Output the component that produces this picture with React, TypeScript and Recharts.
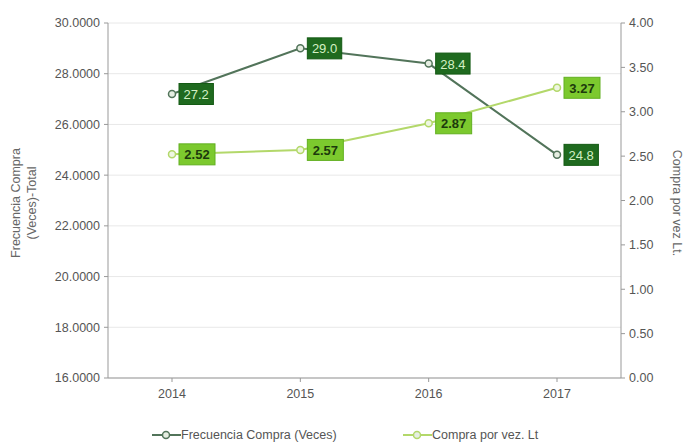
import { ComposedChart, Line, XAxis, YAxis, CartesianGrid, Legend, LabelList } from "recharts";

const years = ["2014", "2015", "2016", "2017"];
const frecuencia = [27.2, 29.0, 28.4, 24.8];
const compraPorVez = [2.52, 2.57, 2.87, 3.27];
const leftTicks = [16, 18, 20, 22, 24, 26, 28, 30];
const rightTicks = [0, 0.5, 1, 1.5, 2, 2.5, 3, 3.5, 4];
const seriesNames = ["Frecuencia Compra (Veces)", "Compra por vez. Lt"];

const FONT = '"Liberation Sans", Arial, sans-serif';
const DARK_LINE = "#52745a";
const LIGHT_LINE = "#b3d86a";

const data = years.map((year, i) => ({
  year,
  frecuencia: frecuencia[i],
  compra: compraPorVez[i],
}));

const makeLabel = (fill: string, color: string, digits: number, bold: boolean) =>
  function BoxLabel(props: any) {
    const { x, y, value } = props;
    const text = Number(value).toFixed(digits);
    const w = text.length * (bold ? 7 : 6.6) + 8;
    return (
      <g>
        <rect x={x + 7} y={y - 10.5} width={w} height={21} fill={fill} stroke={bold ? "#62b020" : "#145a14"} strokeWidth={1} />
        <text
          x={x + 7 + w / 2}
          y={y + 5}
          textAnchor="middle"
          fontSize={13}
          fontFamily={FONT}
          fontWeight={bold ? 700 : 400}
          fill={color}
        >
          {text}
        </text>
      </g>
    );
  };

const DarkLabel = makeLabel("#1f6a1f", "#d4f0c4", 1, false);
const LightLabel = makeLabel("#7cc92e", "#1c3a0c", 2, true);

function LegendContent(props: any) {
  const { payload } = props;
  const lefts = [152, 403];
  const items = seriesNames
    .map((name) => (payload || []).find((p: any) => p.value === name))
    .filter(Boolean);
  return (
    <div style={{ position: "relative", width: 683, height: 32 }}>
      {items.map((entry: any, i: number) => (
        <div
          key={entry.value}
          style={{
            position: "absolute",
            left: lefts[i],
            top: 14,
            display: "flex",
            alignItems: "center",
            fontFamily: FONT,
            fontSize: 12.5,
            color: "#555",
          }}
        >
          <svg width={29} height={10}>
            <line x1={0} y1={5} x2={29} y2={5} stroke={entry.color} strokeWidth={2} />
            <circle cx={14} cy={5} r={3.5} fill="#e6eee2" stroke={entry.color} strokeWidth={1.5} />
          </svg>
          <span>{entry.value}</span>
        </div>
      ))}
    </div>
  );
}

const leftTitle = () => {
  const cx = 24;
  const cy = 203;
  return (
    <text
      transform={`rotate(-90, ${cx}, ${cy})`}
      x={cx}
      y={cy}
      textAnchor="middle"
      fontSize={12.5}
      fontFamily={FONT}
      fill="#666"
    >
      <tspan x={cx} dy={-4}>Frecuencia Compra</tspan>
      <tspan x={cx} dy={16}>(Veces)-Total</tspan>
    </text>
  );
};

const rightTitle = () => {
  const cx = 673;
  const cy = 203;
  return (
    <text
      transform={`rotate(90, ${cx}, ${cy})`}
      x={cx}
      y={cy}
      textAnchor="middle"
      fontSize={12.5}
      fontFamily={FONT}
      fill="#666"
    >
      Compra por vez Lt.
    </text>
  );
};

export default function App() {
  const tickStyle = { fontSize: 12.5, fontFamily: FONT, fill: "#555" };
  return (
    <div style={{ position: "absolute", left: 0, top: 0, background: "#fff" }}>
      <ComposedChart width={683} height={446} data={data} margin={{ top: 23, right: 0, bottom: 0, left: 0 }}>
        <CartesianGrid yAxisId="left" vertical={false} stroke="#e8e8e8" />
        <XAxis
          dataKey="year"
          height={36}
          padding={{ left: 64, right: 64 }}
          tick={tickStyle}
          tickSize={4}
          tickMargin={7}
          stroke="#999"
        />
        <YAxis
          yAxisId="left"
          orientation="left"
          width={108}
          domain={[16, 30]}
          ticks={leftTicks}
          tickFormatter={(v: number) => v.toFixed(4)}
          tick={tickStyle}
          tickSize={4}
          tickMargin={4}
          stroke="#999"
          label={leftTitle}
        />
        <YAxis
          yAxisId="right"
          orientation="right"
          width={62}
          domain={[0, 4]}
          ticks={rightTicks}
          tickFormatter={(v: number) => v.toFixed(2)}
          tick={tickStyle}
          tickSize={4}
          tickMargin={4}
          stroke="#999"
          label={rightTitle}
        />
        <Legend verticalAlign="bottom" content={<LegendContent />} />
        <Line
          yAxisId="left"
          dataKey="frecuencia"
          name={seriesNames[0]}
          stroke={DARK_LINE}
          strokeWidth={2}
          dot={{ r: 3.5, fill: "#e6eee2", stroke: DARK_LINE, strokeWidth: 1.5 }}
          isAnimationActive={false}
        >
          <LabelList dataKey="frecuencia" content={DarkLabel} />
        </Line>
        <Line
          yAxisId="right"
          dataKey="compra"
          name={seriesNames[1]}
          stroke={LIGHT_LINE}
          strokeWidth={2}
          dot={{ r: 3.5, fill: "#eef6e2", stroke: LIGHT_LINE, strokeWidth: 1.5 }}
          isAnimationActive={false}
        >
          <LabelList dataKey="compra" content={LightLabel} />
        </Line>
      </ComposedChart>
    </div>
  );
}
